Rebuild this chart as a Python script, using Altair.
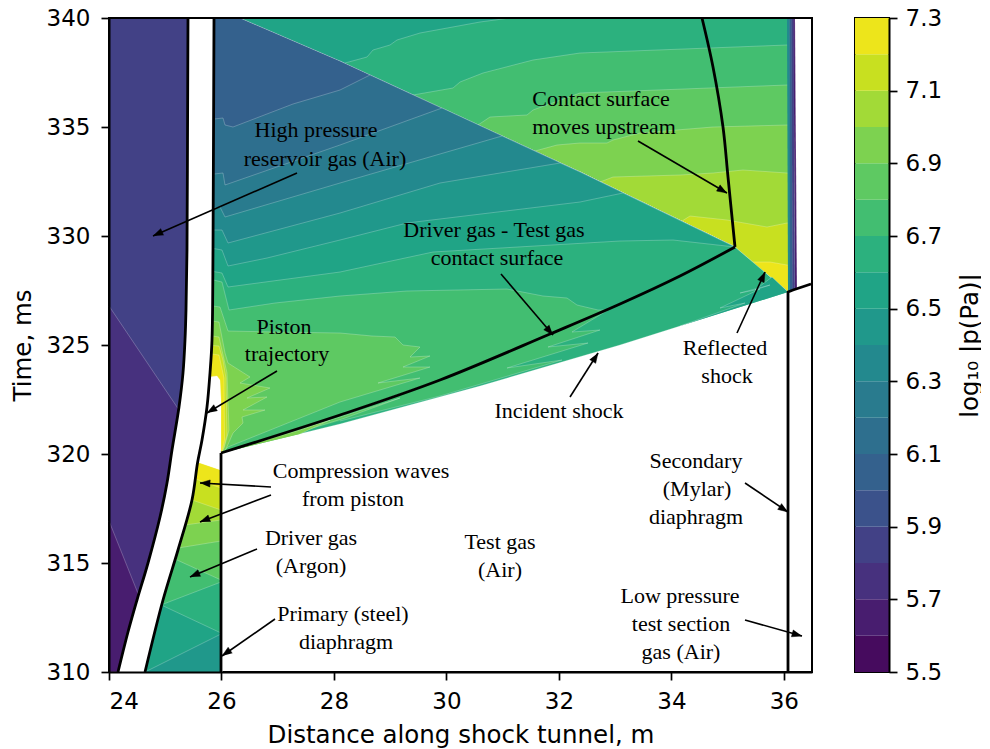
import math
import altair as alt
import pandas as pd

# ---- colour levels (log10 |p|) ----
level_low = [5.5,5.6,5.7,5.8,5.9,6.0,6.1,6.2,6.3,6.4,6.5,6.6,6.7,6.8,6.9,7.0,7.1,7.2]
level_colors = ["#460b5e","#481d6f","#47317e","#424186","#3b528b","#34618d","#2e6f8e","#297b8e","#23898e",
                "#20988b","#20a486","#2cb17e","#42be71","#5ec962","#7dd250","#a2da37","#c8e020","#ede51b"]

def rx(p): return 24 + (p - 109) / 56.24
def ry(p): return 340 - (p - 18) / 21.8

piston_back = [(188,18),(187.5,140),(187,250),(186,310),(185,340),(183,373),(179,407),(172,450),(167,483),(160,517),(148,563),(137,600),(128,632),(118,672)]
piston_front = [(214,18),(213.5,140),(213,250),(212,340),(210,373),(207,407),(202,440),(197.5,463),(192,500),(178,550),(163,600),(145,672)]
diag = [(240,18),(340,61),(580,172),(735,247)]
contact = [(221,453),(340,415),(440,380),(550,334),(620,304),(680,276),(735,247)]
contact_up = [(735,247),(728,177),(723,127),(713,67),(702,18)]
shock = [(221,453),(340,424),(480,386),(620,345),(788,292)]
primary = [(221,672),(221,453)]
secondary = [(788,672),(788,292),(793,290),(811,284)]
frame = [(109,18),(812,18),(812,672)]

upper_edges = {
    11: [(345,63),(367,57),(373,50),(390,45),(397,40),(420,33),(480,22),(510,18)],
    12: [(413,95),(453,88),(460,82),(483,73),(533,60),(580,53),(787,45)],
    13: [(478,125),(490,117),(527,115),(533,110),(580,93),(787,85)],
    14: [(535,151),(557,145),(580,143),(607,143),(613,140),(640,133),(713,127),(787,125)],
    15: [(600,182),(613,177),(680,175),(713,173),(743,170),(787,173)],
    16: [(682,221),(690,216),(727,220),(767,227),(787,223)],
    17: [(753,262),(770,262),(787,265)],
}
lower_edges = {
    6: [(205,120),(223,118),(225,125),(233,127),(293,104),(340,90),(370,75)],
    7: [(205,175),(223,173),(225,185),(340,145),(442,108)],
    8: [(205,210),(220,207),(225,217),(340,183),(502,136)],
    9: [(205,230),(222,230),(228,243),(340,213),(440,183),(560,163)],
    10: [(205,247),(222,250),(228,266),(267,258),(340,240),(407,223),(580,202),(623,193)],
    11: [(205,270),(222,273),(228,287),(340,272),(433,252),(620,241),(673,240),(735,247)],
    12: [(205,278),(222,282),(229,310),(275,303),(340,296),(407,291),(507,289),(543,296),(567,298),(577,305),(598,310),(608,310)],
    13: [(205,305),(220,307),(228,331),(275,332),(340,333),(372,336),(395,337),(403,345),(420,347),(410,357),(430,356),(403,367),(430,367),(378,383),(420,378),(340,402),(228,447)],
    14: [(205,320),(219,322),(225,353),(228,363),(250,377),(240,383),(270,388),(247,398),(267,397),(243,410),(265,410),(242,417),(243,423),(233,433),(226,449)],
    15: [(205,335),(219,337),(223,355),(227,373),(229,430),(224,448)],
    16: [(205,345),(219,346),(223,360),(226,378),(227,435),(223,450)],
    17: [(205,353),(219,355),(224,378),(224.5,440),(222,451)],
}
strip_patches = [
    (12, [(221,453),(340,415),(440,380),(550,334),(608,310),(572,332),(600,330),(548,347),(588,343),(507,368),(562,360),(440,396),(340,421)]),
    (13, [(221,453),(340,417),(400,398),(345,418),(280,438)]),
    (14, [(221,453),(300,430),(330,420),(300,434)]),
    (10, [(788,292),(772,277),(755,290),(770,285),(740,293),(760,289),(720,308),(745,303),(680,326)]),
]
left_patches = [
    (3, [(109,18),(190,18),(190,672),(109,672)]),
    (2, [(109,306),(179,410),(179,672),(109,672)]),
    (1, [(109,521),(139,596),(139,672),(109,672)]),
]
driver_edges = [
    (17, [(190,459),(221,470)]),
    (16, [(190,477),(221,488)]),
    (15, [(175,494),(192,500),(221,510)]),
    (14, [(170,527),(185,525),(221,520)]),
    (13, [(160,551),(221,541)]),
    (12, [(155,550),(221,580)]),
    (11, [(140,613),(221,582)]),
    (10, [(140,595),(221,633)]),
]
driver_bottom = [(145,672),(221,634),(222,672)]
notch = [(209,377),(217,376),(220,380),(221,400),(221,470),(197,462),(202,440),(207,407)]
strip_right = [
    (8, [(787,18),(790,18),(791,290),(788,292)]),
    (5, [(789.5,18),(792,18),(793,289),(790,291)]),
    (3, [(791.5,18),(794,18),(795,289),(792.5,291)]),
    (1, [(793.5,18),(795,18),(797,288),(795,289)]),
]

arrows = [
    ((297,173),(153,236)), ((277,371),(207,413)), ((271,487),(200,483)), ((271,495),(200,522)),
    ((257,549),(190,577)), ((275,619),(222,656)), ((501,274),(553,335)), ((570,397),(598,353)),
    ((638,141),(727,193)), ((737,333),(765,272)), ((745,483),(788,512)), ((745,620),(802,636)),
]
labels = [
    ("High pressure",316,130),("reservoir gas (Air)",325,159),("Piston",284,327),("trajectory",287,354),
    ("Compression waves",361,471),("from piston",353,499),("Driver gas",311,538),("(Argon)",311,566),
    ("Primary (steel)",343,614),("diaphragm",346,642),("Test gas",500,542),("(Air)",500,570),
    ("Driver gas - Test gas",494,230),("contact surface",497,258),("Contact surface",601,99),
    ("moves upstream",604,127),("Incident shock",559,411),("Reflected",725,348),("shock",727,376),
    ("Secondary",696,461),("(Mylar)",697,489),("diaphragm",696,517),("Low pressure",680,596),
    ("test section",681,624),("gas (Air)",681,652),
]

# ---- assemble filled regions, painted in order ----
regions = []
def add(level, pts):
    regions.append((level_colors[level] if level is not None else "#ffffff", pts))

for lv, pts in left_patches:
    add(lv, pts)
add(10, [(240,18),(789,18),(789,292),(735,247),(580,172),(340,61)])
for lv, e in upper_edges.items():
    back = [p for p in diag[::-1] if p[0] > e[0][0]]
    add(lv, e + [(789, e[-1][1]), (789,292)] + back)
add(5, [(205,18),(240,18)] + diag[1:] + contact[::-1] + [(205,453)])
for lv, e in lower_edges.items():
    if lv <= 11:
        tail = [p for p in diag if p[0] > e[-1][0]]
        con = contact[::-1]
    else:
        tail = []
        con = [p for p in contact[::-1] if p[0] < e[-1][0]]
    add(lv, e + tail + con + [(205,453)])
add(11, contact + [(788,292)] + shock[::-1])
for lv, pts in strip_patches:
    add(lv, pts)
for lv, pts in strip_right:
    add(lv, pts)
for lv, e in driver_edges:
    add(lv, e + [(222,672),(130,672)])
add(9, driver_bottom)
add(None, piston_back + piston_front[::-1])
add(None, notch)

rows = []
for k, (col, pts) in enumerate(regions):
    for i, (a, b) in enumerate(pts):
        rows.append({"id": f"r{k:03d}", "i": i, "x": rx(a), "y": ry(b), "c": col})
poly_df = pd.DataFrame(rows)

def to_df(series):
    out = []
    for k, pts in enumerate(series):
        for i, (a, b) in enumerate(pts):
            out.append({"id": k, "i": i, "x": rx(a), "y": ry(b)})
    return pd.DataFrame(out)

curve_df = to_df([piston_back, piston_front, contact, contact_up])
straight_df = to_df([primary, secondary])
frame_df = to_df([frame])

arrow_df = pd.DataFrame([{"x": rx(t[0]), "y": ry(t[1]), "x2": rx(h[0]), "y2": ry(h[1])} for t, h in arrows])
head_tris = []
for t, h in arrows:
    dx, dy = h[0]-t[0], h[1]-t[1]
    n = math.hypot(dx, dy)
    ux, uy = dx/n, dy/n
    bx, by = h[0]-10*ux, h[1]-10*uy
    head_tris.append([h, (bx-3.6*uy, by+3.6*ux), (bx+3.6*uy, by-3.6*ux)])
head_df = to_df(head_tris)
head_df["c"] = "black"
text_df = pd.DataFrame([{"t": s, "x": rx(a), "y": ry(b)} for s, a, b in labels])

FONT = "DejaVu Sans"
FS = 23
TS = 24.5
common = dict(grid=False, tickSize=8, tickWidth=1.7, tickColor="black", domainColor="black", domainWidth=2,
              labelFontSize=FS, titleFontSize=TS, labelFont=FONT, titleFont=FONT, labelColor="black",
              titleColor="black", titleFontWeight="normal", zindex=1)
xs = alt.Scale(domain=[24, 36.5], nice=False, zero=False)
ys = alt.Scale(domain=[310, 340], nice=False, zero=False)
X = alt.X("x:Q", scale=xs, axis=alt.Axis(values=[24,26,28,30,32,34,36], title="Distance along shock tunnel, m",
          labelPadding=10, titlePadding=10, format="d", **common))
Y = alt.Y("y:Q", scale=ys, axis=alt.Axis(values=[310,315,320,325,330,335,340], title="Time, ms",
          labelPadding=11, titlePadding=11, format="d", **common))

polys = alt.Chart(poly_df).mark_line(stroke="white", strokeWidth=0.6, strokeOpacity=0.4, interpolate="linear").encode(
    x=X, y=Y, detail="id:N", order="i:Q", fill=alt.Fill("c:N", scale=None))
curves = alt.Chart(curve_df).mark_line(color="black", strokeWidth=2.8, interpolate="catmull-rom").encode(x=X, y=Y, detail="id:N", order="i:Q")
straights = alt.Chart(straight_df).mark_line(color="black", strokeWidth=2.8, strokeJoin="round").encode(x=X, y=Y, detail="id:N", order="i:Q")
rules = alt.Chart(arrow_df).mark_rule(color="black", strokeWidth=1.6).encode(x=X, y=Y, x2="x2:Q", y2="y2:Q")
heads = alt.Chart(head_df).mark_line(stroke="black", strokeWidth=0.5).encode(
    x=X, y=Y, detail="id:N", order="i:Q", fill=alt.Fill("c:N", scale=None))
texts = alt.Chart(text_df).mark_text(font="Liberation Serif", fontSize=22, color="black", align="center", baseline="middle").encode(
    x=X, y=Y, text="t:N")
fr = alt.Chart(frame_df).mark_line(color="black", strokeWidth=2).encode(x=X, y=Y, order="i:Q")

main = alt.layer(polys, curves, straights, rules, heads, texts, fr).properties(width=703, height=654)

cb_df = pd.DataFrame({"lo": level_low, "hi": [round(v + 0.1, 1) for v in level_low], "c": level_colors})
cbar = alt.Chart(cb_df).mark_rect().encode(
    y=alt.Y("lo:Q", scale=alt.Scale(domain=[5.5, 7.3], nice=False, zero=False),
            axis=alt.Axis(orient="right", values=[5.5,5.7,5.9,6.1,6.3,6.5,6.7,6.9,7.1,7.3], format=".1f", title="log₁₀ |p(Pa)|",
                          titleAngle=270, titleBaseline="top", labelPadding=8, titlePadding=17, **common)),
    y2="hi:Q", fill=alt.Fill("c:N", scale=None)).properties(width=34, height=654)

chart = alt.hconcat(main, cbar, spacing=37).configure_view(stroke="black", strokeWidth=2).properties(
    padding={"left": 1, "top": -2, "right": -3, "bottom": 0})
chart.save("out.html", embed_options={"renderer": "svg", "actions": False})
